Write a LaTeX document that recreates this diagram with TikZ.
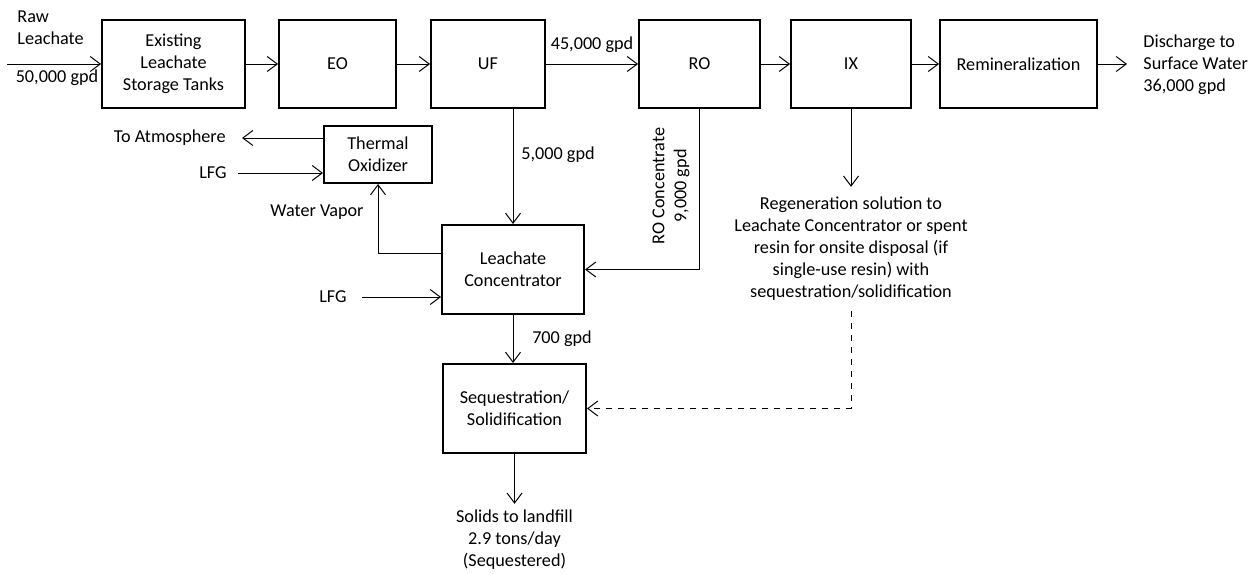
\documentclass[tikz,border=0pt]{standalone}
\usepackage{fontspec}
\setmainfont{Carlito}
\usetikzlibrary{arrows.meta}
\begin{document}
\begin{tikzpicture}[
		x=0.5pt, y=-0.5pt,
		font=\fontsize{9.1}{11}\selectfont,
		box/.style={draw, line width=1pt, align=center, inner sep=0pt},
		flow/.style={line width=0.5pt, -{Straight Barb[length=5pt, width=7.5pt]}},
		lbl/.style={inner sep=0pt, align=center}
		]
		
		\useasboundingbox (0,0) rectangle (1257,573);
		
		% Draw process boxes
		\node[box, minimum width=71.5pt, minimum height=44pt] (tanks) at (173.5,64) {Existing\\Leachate\\Storage Tanks};
		\node[box, minimum width=58.5pt, minimum height=44pt] (eo) at (337.5,64) {EO};
		\node[box, minimum width=57pt, minimum height=44pt] (uf) at (488,64) {UF};
		\node[box, minimum width=60.5pt, minimum height=44pt] (ro) at (699.5,64) {RO};
		\node[box, minimum width=60pt, minimum height=44pt] (ix) at (851,64) {IX};
		\node[box, minimum width=78.5pt, minimum height=44pt] (remin) at (1018.5,64) {Remineralization};
		\node[box, minimum width=54pt, minimum height=28.5pt] (thermal) at (378,154.5) {Thermal\\Oxidizer};
		\node[box, minimum width=71pt, minimum height=44.5pt] (lc) at (513,269.5) {Leachate\\Concentrator};
		\node[box, minimum width=71.5pt, minimum height=44.5pt] (seq) at (514.5,408.5) {Sequestration/\\Solidification};
		
		% Draw free labels
		\node[lbl, anchor=west, align=left] (raw) at (17,28) {Raw\\Leachate};
		\coordinate (rawin) at (7,64);
		\node[lbl] (rawflow) at (57,78) {50,000 gpd};
		\node[lbl, anchor=west, align=left] (disch) at (1143,65) {Discharge to\\Surface Water\\36,000 gpd};
		\node[lbl] (ufro) at (592,45) {45,000 gpd};
		\node[lbl, anchor=east] (atm) at (226,138) {To Atmosphere};
		\coordinate (atmtip) at (242,138);
		\node[lbl] (lfga) at (213,173) {LFG};
		\node[lbl] (lfgb) at (333,297) {LFG};
		\node[lbl] (vapor) at (317,212) {Water Vapor};
		\node[lbl] (uflc) at (558,155) {5,000 gpd};
		\node[lbl, rotate=90] (roconc) at (671,186) {RO Concentrate\\9,000 gpd};
		\node[lbl] (lcseq) at (562,339) {700 gpd};
		\node[lbl, inner sep=5pt] (regen) at (851,249) {Regeneration solution to\\Leachate Concentrator or spent\\resin for onsite disposal (if\\single-use resin) with\\sequestration/solidification};
		\node[lbl, inner sep=3pt] (solids) at (514.5,540) {Solids to landfill\\2.9 tons/day\\(Sequestered)};
		
		% Draw main treatment train
		\draw[flow] (rawin) -- (tanks.west);
		\draw[flow] (tanks) -- (eo);
		\draw[flow] (eo) -- (uf);
		\draw[flow] (uf) -- (ro);
		\draw[flow] (ro) -- (ix);
		\draw[flow] (ix) -- (remin);
		\draw[flow, shorten >=8pt] (remin.east) -- (disch.west |- remin.east);
		
		% Draw side streams
		\draw[flow] (thermal.west |- atmtip) -- (atmtip);
		\draw[flow, shorten <=5.5pt] (lfga.east) -- (thermal.west |- lfga);
		\draw[flow, shorten <=7.5pt] (lfgb.east) -- (lc.west |- lfgb);
		\draw[flow] (lc.west |- 0,253) -| (thermal.south);
		\draw[flow] (uf.south -| lc.north) -- (lc.north);
		\draw[flow] (ro.south) |- (lc.east);
		\draw[flow] (lc.south) -- (lc.south |- seq.north);
		\draw[flow] (ix.south) -- (regen.north);
		\draw[flow, dashed] (regen.south) |- (seq.east);
		\draw[flow] (seq.south) -- (solids.north);
		
	\end{tikzpicture}
\end{document}
